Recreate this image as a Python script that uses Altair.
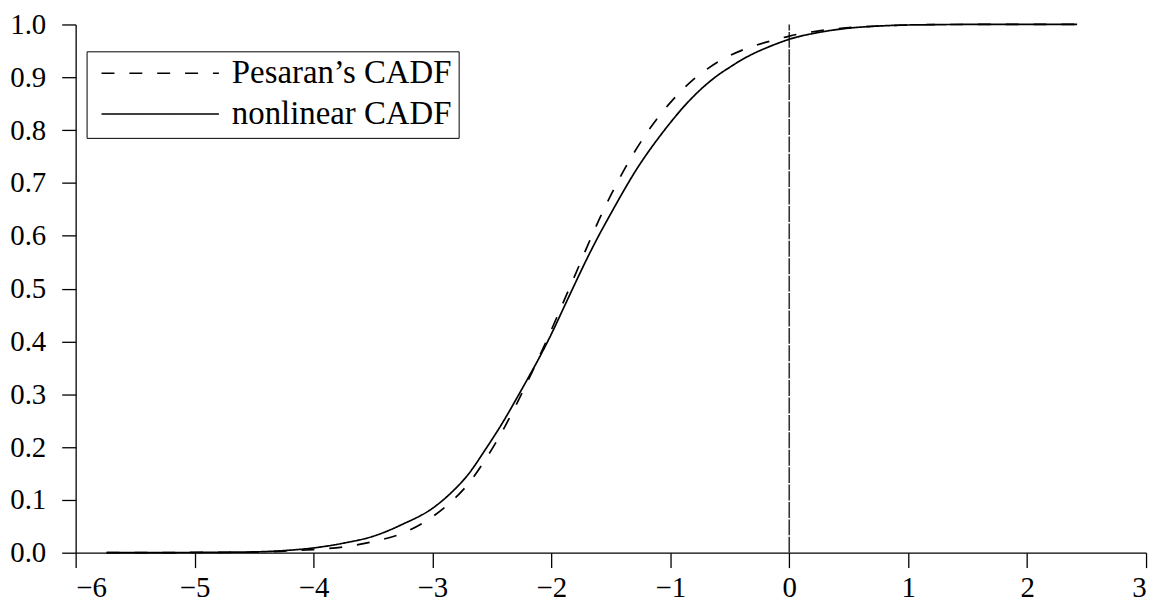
import altair as alt
import pandas as pd

# x positions (shared by both series)
x_vals = [-5.74, -5.0, -4.5, -4.25, -4.0, -3.75, -3.5, -3.25, -3.0, -2.85, -2.7,
          -2.55, -2.4, -2.3, -2.2, -2.1, -2.0, -1.9, -1.8, -1.7, -1.6, -1.5, -1.4,
          -1.3, -1.2, -1.1, -1.0, -0.9, -0.8, -0.7, -0.6, -0.5, -0.4, -0.3, -0.2,
          -0.1, 0.0, 0.25, 0.5, 0.75, 1.0, 1.5, 2.0, 2.42]

nonlinear_cadf = [0.0, 0.0005, 0.0015, 0.004, 0.009, 0.018, 0.031, 0.054, 0.084, 0.112, 0.148,
                  0.197, 0.250, 0.289, 0.329, 0.370, 0.414, 0.462, 0.510, 0.557, 0.601, 0.642, 0.682,
                  0.720, 0.754, 0.785, 0.814, 0.841, 0.865, 0.886, 0.904, 0.919, 0.933, 0.945, 0.955,
                  0.964, 0.972, 0.985, 0.993, 0.997, 0.999, 1.0, 1.0, 1.0]

pesaran_cadf = [0.0, 0.0004, 0.001, 0.003, 0.006, 0.011, 0.021, 0.037, 0.068, 0.095, 0.130,
                0.178, 0.235, 0.278, 0.324, 0.372, 0.422, 0.474, 0.526, 0.579, 0.630, 0.677, 0.720,
                0.759, 0.794, 0.825, 0.852, 0.876, 0.897, 0.914, 0.929, 0.941, 0.951, 0.959, 0.966,
                0.972, 0.978, 0.988, 0.994, 0.997, 0.999, 1.0, 1.0, 1.0]

series_names = ["Pesaran\u2019s CADF", "nonlinear CADF"]
x_ticks = [-6, -5, -4, -3, -2, -1, 0, 1, 2, 3]
y_ticks = [0.0, 0.1, 0.2, 0.3, 0.4, 0.5, 0.6, 0.7, 0.8, 0.9, 1.0]

rule_x = [0.0]
rule_y = [0.0]
rule_y2 = [1.0]

rows = []
for xv, yv in zip(x_vals, pesaran_cadf):
    rows.append({"x": xv, "y": yv, "series": series_names[0]})
for xv, yv in zip(x_vals, nonlinear_cadf):
    rows.append({"x": xv, "y": yv, "series": series_names[1]})
df = pd.DataFrame(rows)
rule_df = pd.DataFrame({"x": rule_x, "y": rule_y, "y2": rule_y2})

FONT = "Liberation Serif"

x_enc = alt.X("x:Q", scale=alt.Scale(domain=[-6, 3], nice=False, zero=False),
              axis=alt.Axis(values=x_ticks, format="d", title=None))
y_enc = alt.Y("y:Q", scale=alt.Scale(domain=[0, 1], nice=False),
              axis=alt.Axis(values=y_ticks, format=".1f", title=None))

lines = alt.Chart(df).mark_line(color="black", strokeWidth=1.7, interpolate="monotone").encode(
    x=x_enc,
    y=y_enc,
    strokeDash=alt.StrokeDash(
        "series:N",
        scale=alt.Scale(domain=series_names, range=[[13, 15], [1, 0]]),
        sort=series_names,
        legend=alt.Legend(
            title=None, orient="none", legendX=11, legendY=27,
            symbolType="stroke", symbolSize=13924, symbolStrokeWidth=1.5,
            symbolStrokeColor="black", symbolOffset=7, clipHeight=30,
            labelFont=FONT, labelFontSize=33, labelColor="black", labelOffset=12,
            padding=7, rowPadding=8, strokeColor="black", fillColor="white",
            cornerRadius=0, labelLimit=400,
        ),
    ),
    order="x:Q",
)

rule = alt.Chart(rule_df).mark_rule(color="#333333", strokeWidth=1.6, strokeDash=[16, 1.5]).encode(
    x="x:Q", y="y:Q", y2="y2:Q"
)

chart = alt.layer(rule, lines).properties(
    width=1076, height=531,
    autosize=alt.AutoSizeParams(type="none"),
    padding={"left": 68, "top": 15, "right": 10, "bottom": 48},
).configure_view(stroke=None).configure_axis(
    grid=False, domainColor="black", domainWidth=1.3, tickColor="black", tickWidth=1.3,
    labelFont=FONT, labelFontSize=29, labelColor="black",
).configure_axisX(tickSize=15, labelPadding=6).configure_axisY(tickSize=14, labelPadding=16)

chart.save("out.html", embed_options={"renderer": "svg", "actions": False})
